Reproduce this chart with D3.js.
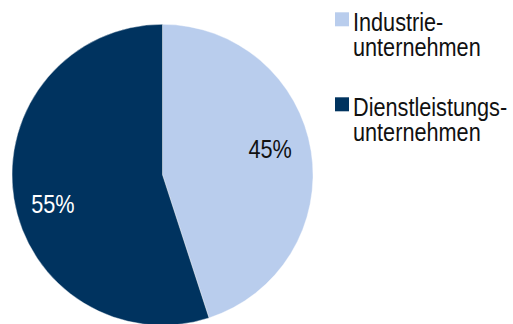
<!DOCTYPE html>
<html>
<head>
<meta charset="utf-8">
<script src="https://cdn.jsdelivr.net/npm/d3@7"></script>
<style>
  html, body { margin: 0; padding: 0; background: #fff; }
  svg text { font-family: "Liberation Sans", Arial, sans-serif; }
</style>
</head>
<body>
<svg id="chart"></svg>
<script>
"use strict";

// Data
var categories = ["Industrie-\nunternehmen", "Dienstleistungs-\nunternehmen"];
var shares = [45, 55];
var sliceLabels = ["45%", "55%"];

var colors = ["#B9CDED", "#00335F"];
var labelColors = ["#111111", "#ffffff"];

var config = {
  width: 513,
  height: 324,
  pie: {cx: 162.5, cy: 174.8, r: 150.5, labelR: 109},
  legend: {x: 335, y: 12.3, square: 14, gap: 85, lineHeight: 25, textX: 18, baseline: 19},
  squeeze: 0.85,
  fontSize: 25.5
};

var svg = d3.select("#chart")
  .attr("width", config.width)
  .attr("height", config.height);

var pie = d3.pie().sort(null).value(function(d) { return d; });
var arcs = pie(shares);

var arc = d3.arc().innerRadius(0).outerRadius(config.pie.r);
var labelArc = d3.arc().innerRadius(config.pie.labelR).outerRadius(config.pie.labelR);

var pieG = svg.append("g")
  .attr("transform", "translate(" + config.pie.cx + "," + config.pie.cy + ")");

pieG.selectAll("path")
  .data(arcs)
  .enter().append("path")
  .attr("d", arc)
  .style("fill", function(d, i) { return colors[i]; })
  .style("stroke", "#ffffff")
  .style("stroke-width", 0.4);

// the 55% label sits lower than the centroid in the original
var labelShift = [{dx: 0, dy: 0}, {dx: -2, dy: 21}];

pieG.selectAll("text.pct")
  .data(arcs)
  .enter().append("text")
  .attr("class", "pct")
  .attr("transform", function(d, i) {
    var c = labelArc.centroid(d);
    return "translate(" + (c[0] + labelShift[i].dx) + "," + (c[1] + labelShift[i].dy) + ") scale(" + config.squeeze + ",1)";
  })
  .attr("text-anchor", "middle")
  .style("font-size", config.fontSize + "px")
  .style("fill", function(d, i) { return labelColors[i]; })
  .text(function(d, i) { return sliceLabels[i]; });

// Legend
var legend = svg.append("g")
  .attr("transform", "translate(" + config.legend.x + "," + config.legend.y + ")");

var items = legend.selectAll("g.item")
  .data(categories)
  .enter().append("g")
  .attr("class", "item")
  .attr("transform", function(d, i) { return "translate(0," + (i * config.legend.gap) + ")"; });

items.append("rect")
  .attr("width", config.legend.square)
  .attr("height", config.legend.square)
  .style("fill", function(d, i) { return colors[i]; });

items.append("text")
  .attr("transform", "translate(" + config.legend.textX + "," + config.legend.baseline + ") scale(" + config.squeeze + ",1)")
  .style("font-size", config.fontSize + "px")
  .style("fill", "#111111")
  .selectAll("tspan")
  .data(function(d) { return d.split("\n"); })
  .enter().append("tspan")
  .attr("x", 0)
  .attr("dy", function(d, i) { return i === 0 ? 0 : config.legend.lineHeight; })
  .text(function(d) { return d; });
</script>
</body>
</html>
